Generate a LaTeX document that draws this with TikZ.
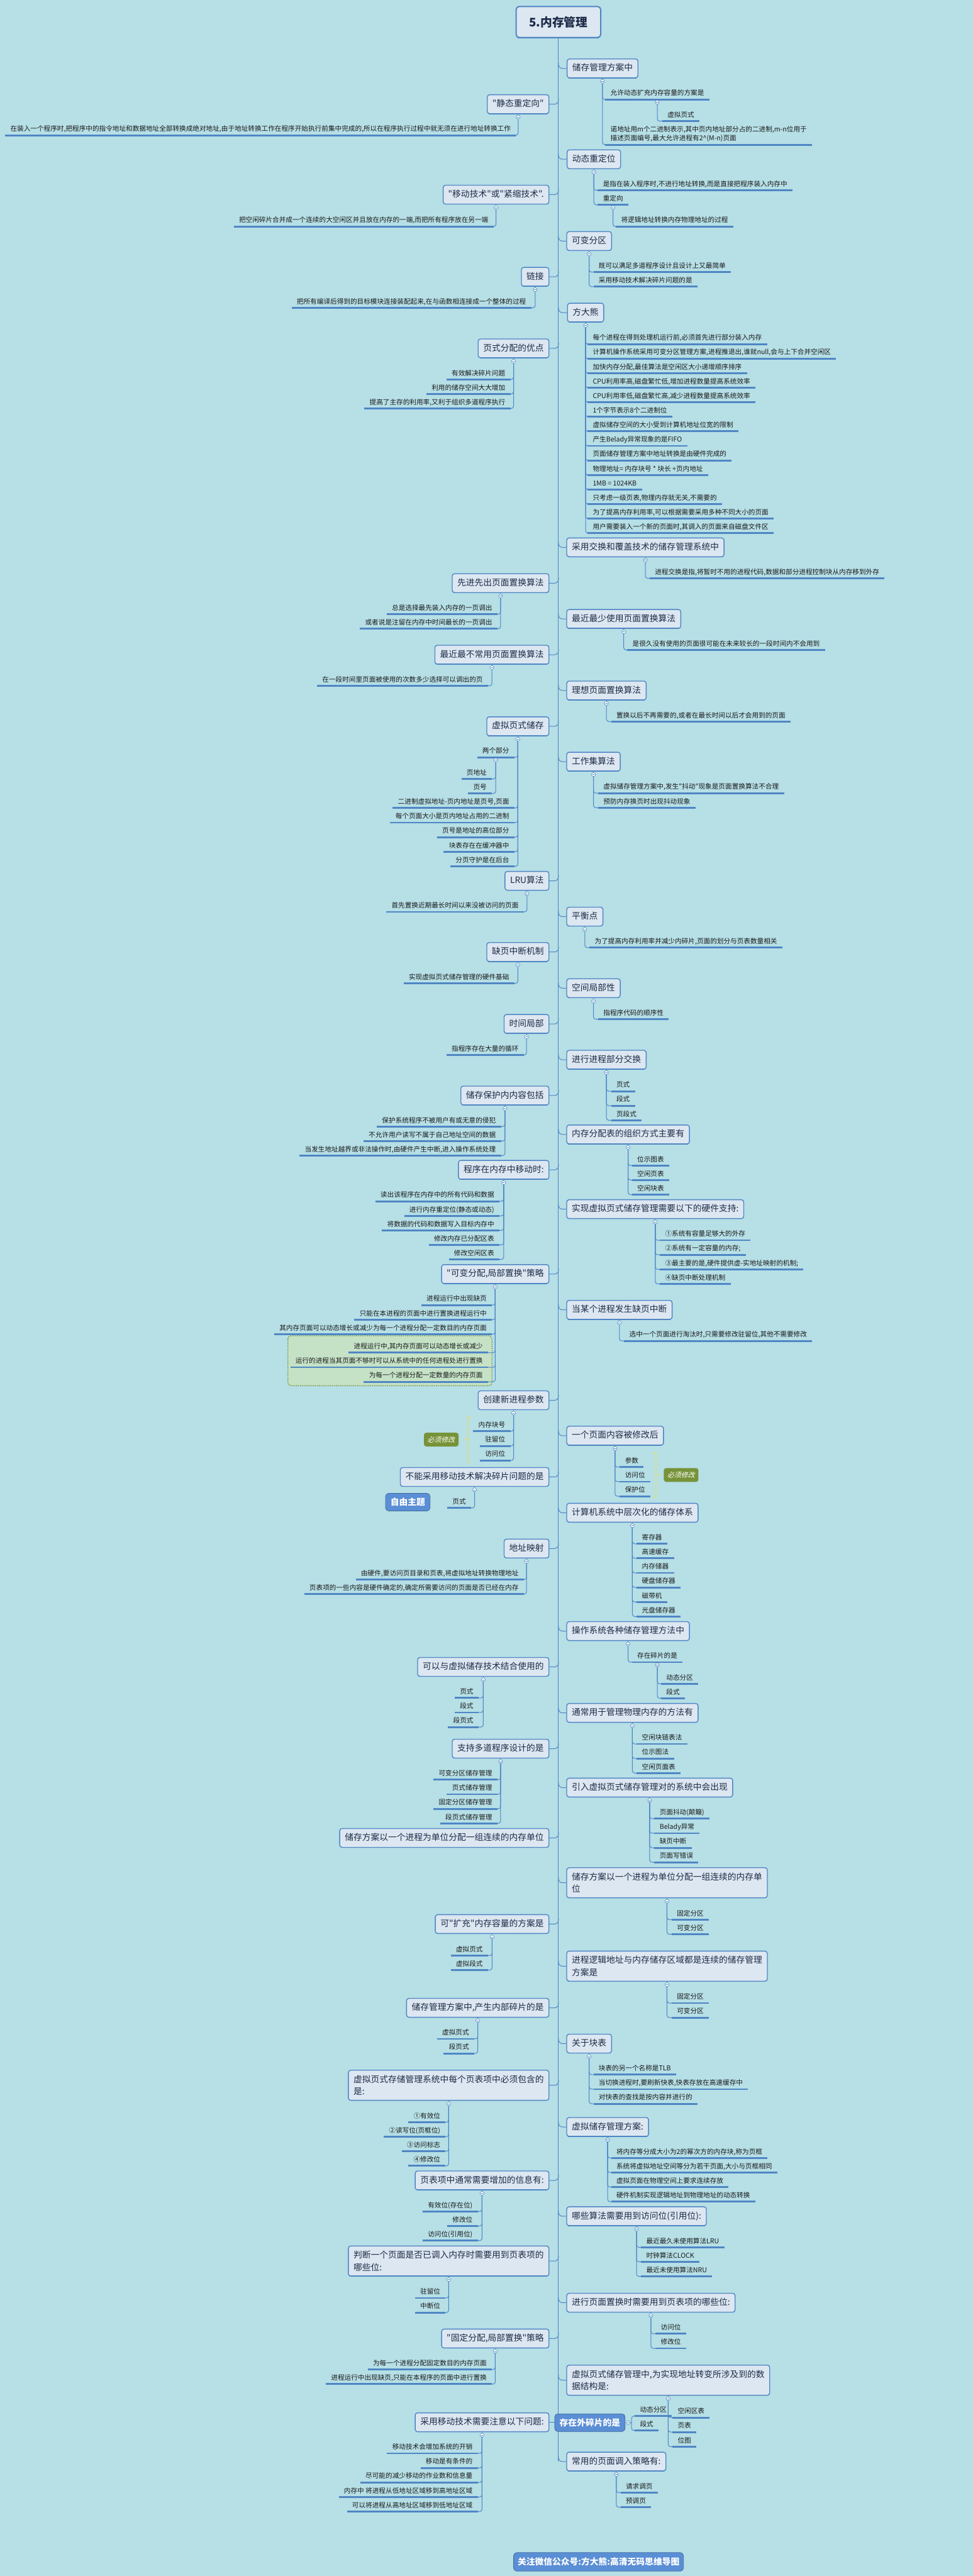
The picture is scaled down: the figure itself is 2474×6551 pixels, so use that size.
\documentclass[tikz,border=0pt]{standalone}
\usepackage{fontspec}
\newfontfamily\cjk{Noto Sans CJK SC}
\newfontfamily\cjkslant[FakeSlant=0.2]{Noto Sans CJK SC}
\usetikzlibrary{positioning,calc}

\definecolor{bgcol}{HTML}{B6DFE6}
\definecolor{boxfill}{HTML}{DDE7F1}
\definecolor{linecol}{HTML}{4F86C4}
\definecolor{topictext}{HTML}{1D2B47}
\definecolor{leaftext}{HTML}{1A1A1A}
\definecolor{tagblue}{HTML}{5A8ED5}
\definecolor{mustgreen}{HTML}{779339}
\definecolor{bracecol}{HTML}{D5DE92}
\definecolor{grpfill}{HTML}{C5E2C6}
\definecolor{grpline}{HTML}{7F9B45}

\tikzset{
  conn/.style={draw=linecol, line width=0.8pt, rounded corners=3pt},
  branch/.style={conn, rounded corners=5pt},
  ulline/.style={draw=linecol, line width=2.3pt},
  botline/.style={draw=linecol, line width=1.2pt},
  maintitle/.style={draw=linecol, line width=1.6pt, fill=boxfill, rounded corners=4pt, text=topictext,
    font=\cjk\bfseries\fontsize{15}{18}\selectfont, minimum width=107.5pt, minimum height=39.5pt,
    append after command={([xshift=3pt,yshift=0.6pt]\tikzlastnode.south west) edge[botline, line width=1.8pt] ([xshift=-3pt,yshift=0.6pt]\tikzlastnode.south east)}},
  topic/.style={draw=linecol, line width=1.1pt, fill=boxfill, rounded corners=3pt, text=topictext,
    font=\cjk\fontsize{11}{15.3}\selectfont, inner xsep=6.5pt, inner ysep=6.4pt,
    append after command={([xshift=2.5pt,yshift=0.5pt]\tikzlastnode.south west) edge[botline] ([xshift=-2.5pt,yshift=0.5pt]\tikzlastnode.south east)}},
  topicone/.style={topic, text height=8.8pt, text depth=2.2pt, minimum height=24pt},
  rt/.style={topicone, anchor=west}, lt/.style={topicone, anchor=east},
  rt2/.style={topic, align=left, anchor=west}, lt2/.style={topic, align=left, anchor=east},
  lf/.style={text=leaftext, font=\cjk\fontsize{8.5}{11.5}\selectfont, inner xsep=6.5pt, inner ysep=3.2pt,
    append after command={(\tikzlastnode.south west) edge[ulline] (\tikzlastnode.south east)}},
  leaf/.style={lf, text height=6.8pt, text depth=1.6pt},
  rl/.style={leaf, anchor=south west}, ll/.style={leaf, anchor=south east},
  fold/.style={circle, draw=linecol, fill=white, line width=0.5pt, minimum size=5pt, inner sep=0pt,
    path picture={\draw[linecol, line width=0.4pt] ([xshift=-1.3pt]path picture bounding box.center) -- ([xshift=1.3pt]path picture bounding box.center);}},
  bluetag/.style={fill=tagblue, draw=linecol!80!black, line width=0.6pt, rounded corners=4pt, text=white,
    font=\cjk\bfseries\fontsize{11}{13}\selectfont, inner sep=0pt},
  musttag/.style={fill=mustgreen, rounded corners=3pt, text=white, font=\cjkslant\fontsize{8.75}{10}\selectfont,
    minimum width=44pt, minimum height=17.5pt, inner sep=0pt},
  mustbracket/.style={draw=bracecol, line width=1.6pt},
  grp/.style={draw=grpline, fill=grpfill, line width=1.1pt, dash pattern=on 1.5pt off 1.2pt, rounded corners=4pt}
}

\begin{document}
\begin{tikzpicture}[x=0.5pt,y=-0.5pt]
\fill[bgcol] (0,0) rectangle (2474,6551);
\useasboundingbox (0,0) rectangle (2474,6551);

\node[maintitle] (title) at (1420,56) {5.内存管理};

% right topics
\node[rt] (r1) at (1441,174) {储存管理方案中};
\node[rt] (r2) at (1441,405) {动态重定位};
\node[rt] (r3) at (1440,613) {可变分区};
\node[rt] (r4) at (1442,795) {方大熊};
\node[rt] (r5) at (1440,1392) {采用交换和覆盖技术的储存管理系统中};
\node[rt] (r6) at (1440,1574) {最近最少使用页面置换算法};
\node[rt] (r7) at (1440,1756) {理想页面置换算法};
\node[rt] (r8) at (1440,1937) {工作集算法};
\node[rt] (r9) at (1440,2331) {平衡点};
\node[rt] (r10) at (1440,2513) {空间局部性};
\node[rt] (r11) at (1440,2695) {进行进程部分交换};
\node[rt] (r12) at (1440,2885) {内存分配表的组织方式主要有};
\node[rt] (r13) at (1440,3075) {实现虚拟页式储存管理需要以下的硬件支持:};
\node[rt] (r14) at (1440,3331) {当某个进程发生缺页中断};
\node[rt] (r15) at (1440,3651) {一个页面内容被修改后};
\node[rt] (r16) at (1440,3847) {计算机系统中层次化的储存体系};
\node[rt] (r17) at (1440,4148) {操作系统各种储存管理方法中};
\node[rt] (r18) at (1440,4356) {通常用于管理物理内存的方法有};
\node[rt] (r19) at (1440,4546) {引入虚拟页式储存管理对的系统中会出现};
\node[rt2] (r20) at (1440,4788) {储存方案以一个进程为单位分配一组连续的内存单\\位};
\node[rt2] (r21) at (1440,5000) {进程逻辑地址与内存储存区域都是连续的储存管理\\方案是};
\node[rt] (r22) at (1440,5197) {关于块表};
\node[rt] (r23) at (1440,5409) {虚拟储存管理方案:};
\node[rt] (r24) at (1440,5636) {哪些算法需要用到访问位(引用位):};
\node[rt] (r25) at (1440,5856) {进行页面置换时需要用到页表项的哪些位:};
\node[rt2] (r26) at (1440,6053) {虚拟页式储存管理中,为实现地址转变所涉及到的数\\据结构是:};
\node[rt] (r27) at (1440,6260) {常用的页面调入策略有:};

% left topics
\node[lt] (l1) at (1397,265) {"静态重定向"};
\node[lt] (l2) at (1397,495) {"移动技术"或"紧缩技术".};
\node[lt] (l3) at (1397,704) {链接};
\node[lt] (l4) at (1397,886) {页式分配的优点};
\node[lt] (l5) at (1397,1483) {先进先出页面置换算法};
\node[lt] (l6) at (1397,1665) {最近最不常用页面置换算法};
\node[lt] (l7) at (1397,1847) {虚拟页式储存};
\node[lt] (l8) at (1397,2240) {LRU算法};
\node[lt] (l9) at (1397,2421) {缺页中断机制};
\node[lt] (l10) at (1397,2604) {时间局部};
\node[lt] (l11) at (1397,2786) {储存保护内内容包括};
\node[lt] (l12) at (1397,2975) {程序在内存中移动时:};
\node[lt] (l13) at (1397,3240) {"可变分配,局部置换"策略};
\node[lt] (l14) at (1397,3561) {创建新进程参数};
\node[lt] (l15) at (1397,3756) {不能采用移动技术解决碎片问题的是};
\node[lt] (l16) at (1397,3938) {地址映射};
\node[lt] (l17) at (1397,4239) {可以与虚拟储存技术结合使用的};
\node[lt] (l18) at (1397,4447) {支持多道程序设计的是};
\node[lt] (l19) at (1397,4674) {储存方案以一个进程为单位分配一组连续的内存单位};
\node[lt] (l20) at (1397,4893) {可"扩充"内存容量的方案是};
\node[lt] (l21) at (1397,5106) {储存管理方案中,产生内部碎片的是};
\node[lt2] (l22) at (1397,5303) {虚拟页式存储管理系统中每个页表项中必须包含的\\是:};
\node[lt] (l23) at (1397,5545) {页表项中通常需要增加的信息有:};
\node[lt2] (l24) at (1397,5750) {判断一个页面是否已调入内存时需要用到页表项的\\哪些位:};
\node[lt] (l25) at (1397,5947) {"固定分配,局部置换"策略};
\node[lt] (l26) at (1397,6160) {采用移动技术需要注意以下问题:};

% spine and branches
\draw[conn] (title.south) -- (title.south |- r27.west);
\foreach \i in {1,...,27}
  \draw[branch] (r\i.west) -| ($(r\i.west -| title.south)+(0,-14)$);
\foreach \i in {1,...,26}
  \draw[branch] (l\i.east) -| ($(l\i.east -| title.south)+(0,-14)$);

% fold marks
\foreach \i in {1,...,27}{
  \node[fold, below=1pt of r\i] (fr\i) {};
  \draw[conn] (r\i.south) -- (fr\i.north);
}
\foreach \i in {1,2,3,4,5,6,7,8,9,10,11,12,13,14,15,16,17,18,20,21,22,23,24,25,26}{
  \node[fold, below=1pt of l\i] (fl\i) {};
  \draw[conn] (l\i.south) -- (fl\i.north);
}

% r1
\node[rl] (r1c1) at (1539,253) {允许动态扩充内存容量的方案是};
\node[lf, align=left, anchor=south west] (r1c2) at (1539,368) {诺地址用m个二进制表示,其中页内地址部分占的二进制,m-n位用于\\描述页面编号,最大允许进程有2\textasciicircum(M-n)页面};
\draw[conn] (fr1.south) |- (r1c1.south west);
\draw[conn] (fr1.south) |- (r1c2.south west);
\node[fold, below=0.6pt of r1c1.south] (fr1c1) {};
\node[rl] (r1c1a) at (1684,308) {虚拟页式};
\draw[conn] (fr1c1.south) |- (r1c1a.south west);

% l1
\node[ll] (l1c1) at (1312,344) {在装入一个程序时,把程序中的指令地址和数据地址全部转换成绝对地址,由于地址转换工作在程序开始执行前集中完成的,所以在程序执行过程中就无须在进行地址转换工作};
\draw[conn] (fl1.south) |- (l1c1.south east);

% r2
\node[rl] (r2c1) at (1520,484) {是指在装入程序时,不进行地址转换,而是直接把程序装入内存中};
\node[rl] (r2c2) at (1520,521) {重定向};
\draw[conn] (fr2.south) |- (r2c1.south west);
\draw[conn] (fr2.south) |- (r2c2.south west);
\node[fold, below=0.6pt of r2c2.south] (fr2c2) {};
\node[rl] (r2c2a) at (1566,576) {将逻辑地址转换内存物理地址的过程};
\draw[conn] (fr2c2.south) |- (r2c2a.south west);

% l2
\node[ll] (l2c1) at (1255,576) {把空闲碎片合并成一个连续的大空闲区并且放在内存的一端,而把所有程序放在另一端};
\draw[conn] (fl2.south) |- (l2c1.south east);

% r3
\foreach \t [count=\i] in {既可以满足多道程序设计且设计上又最简单,采用移动技术解决碎片问题的是}{
  \node[rl] (r3c\i) at (1509,{692+37*(\i-1)}) {\t};
  \draw[conn] (fr3.south) |- (r3c\i.south west);
}

% l3
\node[ll] (l3c1) at (1351,783) {把所有编译后得到的目标模块连接装配起来,在与函数相连接成一个整体的过程};
\draw[conn] (fl3.south) |- (l3c1.south east);

% r4
\foreach \t [count=\i] in {{每个进程在得到处理机运行前,必须首先进行部分装入内存},
  {计算机操作系统采用可变分区管理方案,进程推退出,谁就null,会与上下合并空闲区},
  {加快内存分配,最佳算法是空闲区大小递增顺序排序},
  {CPU利用率高,磁盘繁忙低,增加进程数量提高系统效率},
  {CPU利用率低,磁盘繁忙高,减少进程数量提高系统效率},
  1个字节表示8个二进制位, 虚拟储存空间的大小受到计算机地址位宽的限制,
  产生Belady异常现象的是FIFO, 页面储存管理方案中地址转换是由硬件完成的,
  物理地址= 内存块号 * 块长 +页内地址, 1MB = 1024KB,
  {只考虑一级页表,物理内存就无关,不需要的},
  {为了提高内存利用率,可以根据需要采用多种不同大小的页面},
  {用户需要装入一个新的页面时,其调入的页面来自磁盘文件区}}{
  \node[rl] (r4c\i) at (1494,{875+37*(\i-1)}) {\t};
  \draw[conn] (fr4.south) |- (r4c\i.south west);
}

% l4
\foreach \t [count=\i] in {有效解决碎片问题,利用的储存空间大大增加,{提高了主存的利用率,又利于组织多道程序执行}}{
  \node[ll] (l4c\i) at (1298,{965+37*(\i-1)}) {\t};
  \draw[conn] (fl4.south) |- (l4c\i.south east);
}

% r5
\node[rl] (r5c1) at (1652,1471) {进程交换是指,将暂时不用的进程代码,数据和部分进程控制块从内存移到外存};
\draw[conn] (fr5.south) |- (r5c1.south west);

% l5
\foreach \t [count=\i] in {总是选择最先装入内存的一页调出,或者说是注留在内存中时间最长的一页调出}{
  \node[ll] (l5c\i) at (1265,{1562+37*(\i-1)}) {\t};
  \draw[conn] (fl5.south) |- (l5c\i.south east);
}

% r6 l6 r7
\node[rl] (r6c1) at (1595,1653) {是很久没有使用的页面很可能在未来较长的一段时间内不会用到};
\draw[conn] (fr6.south) |- (r6c1.south west);
\node[ll] (l6c1) at (1241,1744) {在一段时间里页面被使用的次数多少选择可以调出的页};
\draw[conn] (fl6.south) |- (l6c1.south east);
\node[rl] (r7c1) at (1554,1835) {置换以后不再需要的,或者在最长时间以后才会用到的页面};
\draw[conn] (fr7.south) |- (r7c1.south west);

% l7
\node[ll] (l7c1) at (1308,1926) {两个部分};
\draw[conn] (fl7.south) |- (l7c1.south east);
\node[fold, below=0.6pt of l7c1.south] (fl7c1) {};
\node[ll] (l7c1a) at (1251,1981) {页地址};
\node[ll] (l7c1b) at (1251,2018) {页号};
\draw[conn] (fl7c1.south) |- (l7c1a.south east);
\draw[conn] (fl7c1.south) |- (l7c1b.south east);
\foreach \t [count=\i] in {{二进制虚拟地址-页内地址是页号,页面},每个页面大小是页内地址占用的二进制,
  页号是地址的高位部分,块表存在在缓冲器中,分页守护是在后台}{
  \node[ll] (l7d\i) at (1308,{2055+37*(\i-1)}) {\t};
  \draw[conn] (fl7.south) |- (l7d\i.south east);
}

% r8
\foreach \t [count=\i] in {{虚拟储存管理方案中,发生"抖动"现象是页面置换算法不合理},预防内存换页时出现抖动现象}{
  \node[rl] (r8c\i) at (1521,{2017+37*(\i-1)}) {\t};
  \draw[conn] (fr8.south) |- (r8c\i.south west);
}

% l8 r9 l9 r10 l10
\node[ll] (l8c1) at (1332,2319) {首先置换近期最长时间以来没被访问的页面};
\draw[conn] (fl8.south) |- (l8c1.south east);
\node[rl] (r9c1) at (1499,2410) {为了提高内存利用率并减少内碎片,页面的划分与页表数量相关};
\draw[conn] (fr9.south) |- (r9c1.south west);
\node[ll] (l9c1) at (1308,2501) {实现虚拟页式储存管理的硬件基础};
\draw[conn] (fl9.south) |- (l9c1.south east);
\node[rl] (r10c1) at (1521,2592) {指程序代码的顺序性};
\draw[conn] (fr10.south) |- (r10c1.south west);
\node[ll] (l10c1) at (1332,2683) {指程序存在大量的循环};
\draw[conn] (fl10.south) |- (l10c1.south east);

% r11
\foreach \t [count=\i] in {页式,段式,页段式}{
  \node[rl] (r11c\i) at (1554,{2775+37*(\i-1)}) {\t};
  \draw[conn] (fr11.south) |- (r11c\i.south west);
}

% l11
\foreach \t [count=\i] in {保护系统程序不被用户有或无意的侵犯,不允许用户读写不属于自己地址空间的数据,
  {当发生地址越界或非法操作时,由硬件产生中断,进入操作系统处理}}{
  \node[ll] (l11c\i) at (1274,{2865+37*(\i-1)}) {\t};
  \draw[conn] (fl11.south) |- (l11c\i.south east);
}

% r12
\foreach \t [count=\i] in {位示图表,空闲页表,空闲块表}{
  \node[rl] (r12c\i) at (1607,{2964+37*(\i-1)}) {\t};
  \draw[conn] (fr12.south) |- (r12c\i.south west);
}

% l12
\foreach \t [count=\i] in {读出该程序在内存中的所有代码和数据,进行内存重定位(静态或动态),
  将数据的代码和数据写入目标内存中,修改内存已分配区表,修改空闲区表}{
  \node[ll] (l12c\i) at (1270,{3055+37*(\i-1)}) {\t};
  \draw[conn] (fl12.south) |- (l12c\i.south east);
}

% r13
\foreach \t [count=\i] in {①系统有容量足够大的外存,②系统有一定容量的内存;,
  {③最主要的是,硬件提供虚-实地址映射的机制;},④缺页中断处理机制}{
  \node[rl] (r13c\i) at (1678,{3154+37*(\i-1)}) {\t};
  \draw[conn] (fr13.south) |- (r13c\i.south west);
}

% l13
\foreach \t [count=\i] in {进程运行中出现缺页,只能在本进程的页面中进行置换进程运行中,
  其内存页面可以动态增长或减少为每一个进程分配一定数目的内存页面}{
  \node[ll] (l13c\i) at (1251,{3319+37*(\i-1)}) {\t};
  \draw[conn] (fl13.south) |- (l13c\i.south east);
}
\draw[grp] (732,3397) rectangle (1251,3524);
\foreach \t [count=\i] in {{进程运行中,其内存页面可以动态增长或减少},
  运行的进程当其页面不够时可以从系统中的任何进程处进行置换,为每一个进程分配一定数量的内存页面}{
  \node[ll] (l13d\i) at (1241,{3440+37*(\i-1)}) {\t};
  \draw[conn] (fl13.south) |- (l13d\i.south east);
}

% r14
\node[rl] (r14c1) at (1587,3410) {选中一个页面进行淘汰时,只需要修改驻留位,其他不需要修改};
\draw[conn] (fr14.south) |- (r14c1.south west);

% l14
\foreach \t [count=\i] in {内存块号,驻留位,访问位}{
  \node[ll] (l14c\i) at (1298,{3640+37*(\i-1)}) {\t};
  \draw[conn] (fl14.south) |- (l14c\i.south east);
}
\draw[mustbracket] (1198,3604) -- (1190,3604) -- (1190,3718) -- (1198,3718);
\draw[mustbracket] (1190,3661) -- (1181,3661);
\node[musttag] (must1) at (1122,3661) {必须修改};

% r15
\foreach \t [count=\i] in {参数,访问位,保护位}{
  \node[rl] (r15c\i) at (1576,{3731+37*(\i-1)}) {\t};
  \draw[conn] (fr15.south) |- (r15c\i.south west);
}
\draw[mustbracket] (1660,3695) -- (1668,3695) -- (1668,3808) -- (1660,3808);
\draw[mustbracket] (1668,3751) -- (1677,3751);
\node[musttag] (must2) at (1732,3751) {必须修改};

% l15
\node[ll] (l15c1) at (1198,3835) {页式};
\draw[conn] (fl15.south) |- (l15c1.south east);
\node[bluetag, minimum width=56.5pt, minimum height=22.5pt] (freetopic) at (1037,3820) {自由主题};

% r16
\foreach \t [count=\i] in {寄存器,高速缓存,内存储器,硬盘储存器,磁带机,光盘储存器}{
  \node[rl] (r16c\i) at (1619,{3926+37*(\i-1)}) {\t};
  \draw[conn] (fr16.south) |- (r16c\i.south west);
}

% l16
\foreach \t [count=\i] in {{由硬件,要访问页目录和页表,将虚拟地址转换物理地址},
  {页表项的一些内容是硬件确定的,确定所需要访问的页面是否已经在内存}}{
  \node[ll] (l16c\i) at (1332,{4017+37*(\i-1)}) {\t};
  \draw[conn] (fl16.south) |- (l16c\i.south east);
}

% r17
\node[rl] (r17c1) at (1607,4227) {存在碎片的是};
\draw[conn] (fr17.south) |- (r17c1.south west);
\node[fold, below=0.6pt of r17c1.south] (fr17c1) {};
\foreach \t [count=\i] in {动态分区,段式}{
  \node[rl] (r17d\i) at (1681,{4282+37*(\i-1)}) {\t};
  \draw[conn] (fr17c1.south) |- (r17d\i.south west);
}

% l17
\foreach \t [count=\i] in {页式,段式,段页式}{
  \node[ll] (l17c\i) at (1217,{4318+37*(\i-1)}) {\t};
  \draw[conn] (fl17.south) |- (l17c\i.south east);
}

% r18
\foreach \t [count=\i] in {空闲块链表法,位示图法,空闲页面表}{
  \node[rl] (r18c\i) at (1619,{4435+37*(\i-1)}) {\t};
  \draw[conn] (fr18.south) |- (r18c\i.south west);
}

% l18
\foreach \t [count=\i] in {可变分区储存管理,页式储存管理,固定分区储存管理,段页式储存管理}{
  \node[ll] (l18c\i) at (1265,{4526+37*(\i-1)}) {\t};
  \draw[conn] (fl18.south) |- (l18c\i.south east);
}

% r19
\foreach \t [count=\i] in {页面抖动(颠簸),Belady异常,缺页中断,页面写错误}{
  \node[rl] (r19c\i) at (1664,{4625+37*(\i-1)}) {\t};
  \draw[conn] (fr19.south) |- (r19c\i.south west);
}

% r20 l20 r21 l21
\foreach \t [count=\i] in {固定分区,可变分区}{
  \node[rl] (r20c\i) at (1708,{4882+37*(\i-1)}) {\t};
  \draw[conn] (fr20.south) |- (r20c\i.south west);
}
\foreach \t [count=\i] in {虚拟页式,虚拟段式}{
  \node[ll] (l20c\i) at (1241,{4973+37*(\i-1)}) {\t};
  \draw[conn] (fl20.south) |- (l20c\i.south east);
}
\foreach \t [count=\i] in {固定分区,可变分区}{
  \node[rl] (r21c\i) at (1708,{5094+37*(\i-1)}) {\t};
  \draw[conn] (fr21.south) |- (r21c\i.south west);
}
\foreach \t [count=\i] in {虚拟页式,段页式}{
  \node[ll] (l21c\i) at (1206,{5185+37*(\i-1)}) {\t};
  \draw[conn] (fl21.south) |- (l21c\i.south east);
}

% r22
\foreach \t [count=\i] in {块表的另一个名称是TLB,{当切换进程时,要刷新快表,快表存放在高速缓存中},对快表的查找是按内容并进行的}{
  \node[rl] (r22c\i) at (1509,{5276+37*(\i-1)}) {\t};
  \draw[conn] (fr22.south) |- (r22c\i.south west);
}

% l22
\foreach \t [count=\i] in {①有效位,②读写位(页框位),③访问标志,④修改位}{
  \node[ll] (l22c\i) at (1133,{5397+37*(\i-1)}) {\t};
  \draw[conn] (fl22.south) |- (l22c\i.south east);
}

% r23
\foreach \t [count=\i] in {{将内存等分成大小为2的幂次方的内存块,称为页框},{系统将虚拟地址空间等分为若干页面,大小与页框相同},
  虚拟页面在物理空间上要求连续存放,硬件机制实现逻辑地址到物理地址的动态转换}{
  \node[rl] (r23c\i) at (1554,{5488+37*(\i-1)}) {\t};
  \draw[conn] (fr23.south) |- (r23c\i.south west);
}

% l23
\foreach \t [count=\i] in {有效位(存在位),修改位,访问位(引用位)}{
  \node[ll] (l23c\i) at (1215,{5624+37*(\i-1)}) {\t};
  \draw[conn] (fl23.south) |- (l23c\i.south east);
}

% r24
\foreach \t [count=\i] in {最近最久未使用算法LRU,时钟算法CLOCK,最近未使用算法NRU}{
  \node[rl] (r24c\i) at (1630,{5715+37*(\i-1)}) {\t};
  \draw[conn] (fr24.south) |- (r24c\i.south west);
}

% l24
\foreach \t [count=\i] in {驻留位,中断位}{
  \node[ll] (l24c\i) at (1133,{5844+37*(\i-1)}) {\t};
  \draw[conn] (fl24.south) |- (l24c\i.south east);
}

% r25
\foreach \t [count=\i] in {访问位,修改位}{
  \node[rl] (r25c\i) at (1667,{5935+37*(\i-1)}) {\t};
  \draw[conn] (fr25.south) |- (r25c\i.south west);
}

% l25
\foreach \t [count=\i] in {为每一个进程分配固定数目的内存页面,{进程运行中出现缺页,只能在本程序的页面中进行置换}}{
  \node[ll] (l25c\i) at (1251,{6026+37*(\i-1)}) {\t};
  \draw[conn] (fl25.south) |- (l25c\i.south east);
}

% r26
\foreach \t [count=\i] in {空闲区表,页表,位图}{
  \node[rl] (r26c\i) at (1710,{6148+37*(\i-1)}) {\t};
  \draw[conn] (fr26.south) |- (r26c\i.south west);
}

% l26
\foreach \t [count=\i] in {移动技术会增加系统的开销,移动是有条件的,尽可能的减少移动的作业数和信息量,
  内存中 将进程从低地址区域移到高地址区域,可以将进程从高地址区域移到低地址区域}{
  \node[ll] (l26c\i) at (1215,{6239+37*(\i-1)}) {\t};
  \draw[conn] (fl26.south) |- (l26c\i.south east);
}

% floating topic
\node[bluetag, minimum width=89.5pt, minimum height=22.5pt] (ext) at (1500,6161) {存在外碎片的是};
\node[fold, right=0.8pt of ext] (fext) {};
\coordinate (extv) at (1606,6162);
\draw[conn] (fext.east) -- (extv);
\foreach \t [count=\i] in {动态分区,段式}{
  \node[rl] (extc\i) at (1614,{6144+37*(\i-1)}) {\t};
  \draw[conn] (extv) |- (extc\i.south west);
}

% r27
\foreach \t [count=\i] in {请求调页,预调页}{
  \node[rl] (r27c\i) at (1578,{6339+37*(\i-1)}) {\t};
  \draw[conn] (fr27.south) |- (r27c\i.south west);
}

\node[bluetag, minimum width=216pt, minimum height=23.5pt] (follow) at (1522,6515) {关注微信公众号:方大熊:高清无码思维导图};
\end{tikzpicture}
\end{document}
